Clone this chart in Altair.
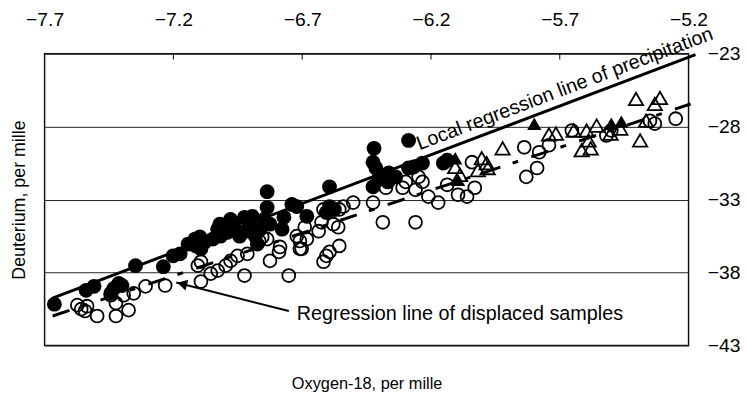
import altair as alt
import pandas as pd

FONT = "Liberation Sans"

x_ticks = [-7.7, -7.2, -6.7, -6.2, -5.7, -5.2]
y_ticks = [-23, -28, -33, -38, -43]

filled_x = [-7.662, -7.539, -7.508, -7.443, -7.431, -7.412, -7.400, -7.347, -7.239, -7.201,
            -7.174, -7.116, -7.097, -7.112, -7.078, -7.093, -7.020, -7.028, -7.017, -6.978,
            -6.963, -6.990, -6.924, -6.905, -6.920, -6.943, -6.836, -6.836, -6.848, -6.825,
            -6.863, -6.894, -6.882, -6.771, -6.740, -6.778, -6.721, -6.682, -6.594, -6.594,
            -6.575, -6.606, -6.421, -6.425, -6.414, -6.425, -6.406, -6.364, -6.367, -6.337,
            -6.287, -6.287, -6.233, -6.268, -6.152, -6.137, -7.047, -6.874, -7.143]
filled_y = [-40.17, -39.22, -38.95, -39.43, -39.09, -38.75, -38.89, -37.53, -37.60, -36.86,
            -36.72, -35.71, -35.57, -36.18, -35.91, -36.38, -34.69, -35.03, -35.51, -34.36,
            -34.83, -35.24, -34.22, -34.56, -35.17, -35.51, -32.46, -33.55, -34.36, -34.69,
            -35.03, -34.15, -35.51, -34.22, -33.34, -35.03, -33.48, -34.15, -32.13, -33.48,
            -33.68, -33.88, -29.49, -30.44, -30.84, -32.13, -31.65, -31.18, -31.79, -31.45,
            -28.95, -30.84, -30.50, -30.77, -30.50, -30.30, -35.71, -36.05, -36.05]

open_x = [-7.573, -7.558, -7.543, -7.535, -7.496, -7.423, -7.374, -7.423, -7.443, -7.393,
          -7.354, -7.308, -7.232, -7.105, -7.093, -7.093, -7.055, -7.028, -6.997, -6.978,
          -6.951, -6.913, -6.924, -6.867, -6.855, -6.836, -6.825, -6.790, -6.786, -6.752,
          -6.709, -6.709, -6.682, -6.690, -6.636, -6.625, -6.617, -6.579, -6.560, -6.556,
          -6.540, -6.617, -6.606, -6.594, -6.556, -6.502, -6.425, -6.387, -6.260, -6.375,
          -6.310, -6.298, -6.248, -6.233, -6.210, -6.172, -6.260, -6.137, -6.095, -6.060,
          -6.030, -6.041, -5.838, -5.780, -5.742, -5.830, -5.788, -5.653, -5.519, -5.500,
          -5.331, -5.250, -5.350, -6.702, -6.721]
open_y = [-40.24, -40.51, -40.64, -40.31, -40.98, -40.98, -40.58, -40.10, -39.56, -39.56,
          -39.43, -38.95, -38.89, -37.53, -37.26, -38.62, -38.08, -37.87, -37.53, -37.20,
          -36.86, -36.72, -38.21, -35.84, -35.57, -35.71, -37.20, -36.59, -36.25, -38.21,
          -36.38, -35.84, -35.71, -34.90, -35.17, -34.56, -33.68, -34.69, -34.90, -33.68,
          -33.48, -37.26, -36.86, -36.59, -36.18, -33.21, -33.21, -34.56, -34.56, -32.19,
          -32.19, -31.79, -31.45, -31.79, -32.80, -33.21, -32.33, -31.99, -32.67, -32.80,
          -32.19, -30.44, -29.42, -29.76, -29.28, -31.45, -30.84, -28.27, -28.61, -28.27,
          -27.80, -27.46, -27.60, -36.38, -35.51]

tri_x = [-5.922, -5.742, -5.715, -5.646, -5.615, -5.580, -5.596, -5.557, -5.588, -5.388,
         -5.404, -5.331, -5.311, -5.365, -5.503, -5.465, -6.003, -5.984, -5.980, -6.018,
         -6.106, -6.087]
tri_y = [-29.49, -28.54, -28.48, -28.27, -29.62, -29.49, -28.27, -27.93, -28.95, -28.95,
         -26.11, -26.45, -26.04, -27.60, -28.48, -28.14, -30.17, -30.50, -30.84, -30.98,
         -30.77, -31.31]

ftri_x = [-5.799, -6.106, -6.095, -5.500, -5.461]
ftri_y = [-27.80, -30.17, -31.65, -27.80, -27.66]

local_line_x = [-7.669, -5.173]
local_line_y = [-39.75, -23.07]
displaced_line_x = [-7.669, -5.192]
displaced_line_y = [-40.98, -26.45]

arrow_x = [-6.752, -7.189]
arrow_y = [-40.64, -38.68]
arrowhead_x = [-7.166]
arrowhead_y = [-38.78]

label_local = "Local regression line of precipitation"
label_local_x = [-6.245]
label_local_y = [-29.62]
label_disp = "Regression line of displaced samples"
label_disp_x = [-6.721]
label_disp_y = [-40.85]

x_title = "Oxygen-18, per mille"
y_title = "Deuterium, per mille"

xs = alt.Scale(domain=[-7.7, -5.2], nice=False, zero=False)
ys = alt.Scale(domain=[-43, -23], nice=False, zero=False)

top_axis = alt.Axis(orient="top", values=x_ticks, format=".1f", labelFontSize=19.5,
                    labelFont=FONT, labelColor="black", labelPadding=24, labelFlush=False,
                    ticks=False, domain=False, grid=False, title=None, labelOverlap=False)
right_axis = alt.Axis(orient="right", values=y_ticks, labelFontSize=19.5, labelFont=FONT,
                      labelColor="black", labelPadding=19, labelFlush=False, ticks=False,
                      domain=False, grid=True, gridColor="#222222", gridWidth=1,
                      title=None, labelOverlap=False)
bottom_axis = alt.Axis(orient="bottom", labels=False, ticks=False, domain=False, grid=False,
                       title=x_title, titleFont=FONT, titleFontSize=16.5,
                       titleFontWeight="normal", titleColor="black", titlePadding=31)
left_axis = alt.Axis(orient="left", labels=False, ticks=False, domain=False, grid=False,
                     title=y_title, titleFont=FONT, titleFontSize=18,
                     titleFontWeight="normal", titleColor="black", titlePadding=16)

open_df = pd.DataFrame({"x": open_x, "y": open_y})
filled_df = pd.DataFrame({"x": filled_x, "y": filled_y})
tri_df = pd.DataFrame({"x": tri_x, "y": tri_y})
ftri_df = pd.DataFrame({"x": ftri_x, "y": ftri_y})

open_layer = alt.Chart(open_df).mark_point(
    shape="circle", size=170, filled=False, stroke="black", strokeWidth=1.8, opacity=1
).encode(x=alt.X("x:Q", scale=xs, axis=top_axis), y=alt.Y("y:Q", scale=ys, axis=right_axis))

filled_layer = alt.Chart(filled_df).mark_point(
    shape="circle", size=225, filled=True, color="black", opacity=1
).encode(x=alt.X("x:Q", scale=xs, axis=None), y=alt.Y("y:Q", scale=ys, axis=None))

tri_layer = alt.Chart(tri_df).mark_point(
    shape="triangle-up", size=210, filled=False, stroke="black", strokeWidth=1.8, opacity=1
).encode(x=alt.X("x:Q", scale=xs, axis=None), y=alt.Y("y:Q", scale=ys, axis=None))

ftri_layer = alt.Chart(ftri_df).mark_point(
    shape="triangle-up", size=210, filled=True, color="black", opacity=1
).encode(x=alt.X("x:Q", scale=xs, axis=None), y=alt.Y("y:Q", scale=ys, axis=None))

local_df = pd.DataFrame({"x": local_line_x, "y": local_line_y})
local_layer = alt.Chart(local_df).mark_line(color="black", strokeWidth=3, clip=False).encode(
    x=alt.X("x:Q", scale=xs, axis=bottom_axis), y=alt.Y("y:Q", scale=ys, axis=left_axis)
)

disp_df = pd.DataFrame({"x": displaced_line_x, "y": displaced_line_y})
disp_layer = alt.Chart(disp_df).mark_line(
    color="black", strokeWidth=3, strokeDash=[18, 13, 6, 14], strokeCap="butt"
).encode(x=alt.X("x:Q", scale=xs, axis=None), y=alt.Y("y:Q", scale=ys, axis=None))

arrow_df = pd.DataFrame({"x": arrow_x, "y": arrow_y})
arrow_layer = alt.Chart(arrow_df).mark_line(color="black", strokeWidth=2).encode(
    x=alt.X("x:Q", scale=xs, axis=None), y=alt.Y("y:Q", scale=ys, axis=None)
)
head_df = pd.DataFrame({"x": arrowhead_x, "y": arrowhead_y})
head_layer = alt.Chart(head_df).mark_point(
    shape="triangle-left", size=130, filled=True, color="black", angle=14.5, opacity=1
).encode(x=alt.X("x:Q", scale=xs, axis=None), y=alt.Y("y:Q", scale=ys, axis=None))

lab1_df = pd.DataFrame({"x": label_local_x, "y": label_local_y, "t": [label_local]})
lab1_layer = alt.Chart(lab1_df).mark_text(
    font=FONT, fontSize=20, color="black", align="left", baseline="alphabetic", angle=339.3
).encode(x=alt.X("x:Q", scale=xs, axis=None), y=alt.Y("y:Q", scale=ys, axis=None), text="t:N")

lab2_df = pd.DataFrame({"x": label_disp_x, "y": label_disp_y, "t": [label_disp]})
lab2_layer = alt.Chart(lab2_df).mark_text(
    font=FONT, fontSize=20, color="black", align="left", baseline="middle"
).encode(x=alt.X("x:Q", scale=xs, axis=None), y=alt.Y("y:Q", scale=ys, axis=None), text="t:N")

tick_df = pd.DataFrame({"x": x_ticks[1:-1]})
tick_layer = alt.Chart(tick_df).mark_rule(color="black", strokeWidth=1).encode(
    x=alt.X("x:Q", scale=xs, axis=None), y=alt.value(0), y2=alt.value(6)
)

chart = alt.layer(
    open_layer, filled_layer, tri_layer, ftri_layer, local_layer, disp_layer,
    arrow_layer, head_layer, lab1_layer, lab2_layer, tick_layer
).resolve_axis(x="independent", y="independent").properties(
    width=651, height=295,
    autosize=alt.AutoSizeParams(type="none"),
    padding={"left": 37, "top": 44, "right": 52, "bottom": 52},
).configure_view(stroke="#111111", strokeWidth=1.5)

chart.save("out.html", embed_options={"renderer": "svg", "actions": False})
